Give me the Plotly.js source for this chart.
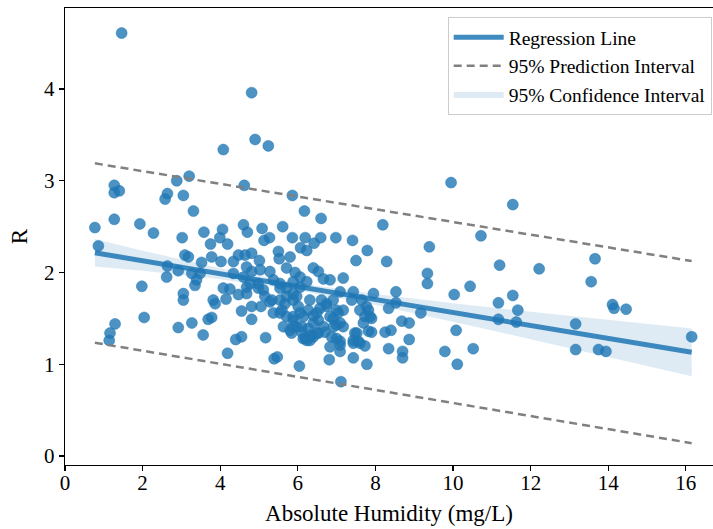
<!DOCTYPE html>
<html>
<head>
<meta charset="utf-8">
<script src="https://cdn.plot.ly/plotly-3.0.1.min.js"></script>
<style>html,body{margin:0;padding:0;background:#fff;}#chart{width:713px;height:529px;}</style>
</head>
<body>
<div id="chart"></div>
<script>
// Observed points: absolute humidity (mg/L) and R
const humidity = [
1.46,4.81,4.90,5.24,4.08,4.62,9.95,11.54,10.72,9.39,11.20,12.22,1.27,1.27,1.40,2.88,3.20,2.64,2.58,3.05,
3.31,5.86,6.17,6.60,0.77,1.27,1.93,2.28,8.19,3.02,3.58,4.06,4.60,4.70,5.08,5.61,5.86,6.19,6.59,6.98,
7.41,3.99,4.19,5.13,5.27,6.07,6.23,6.42,7.79,7.50,8.29,0.86,2.64,2.62,2.92,3.09,3.18,3.52,3.75,3.78,
4.02,3.27,3.48,3.39,3.35,1.98,3.05,3.05,3.82,3.87,4.08,4.25,4.15,4.47,2.04,1.29,1.16,1.14,2.92,3.27,
3.56,3.69,3.78,4.55,4.81,4.81,5.05,4.19,4.40,4.55,5.17,5.39,5.47,6.04,6.81,7.11,7.43,7.78,7.09,
4.34,4.47,4.64,4.81,5.01,4.68,4.81,5.03,5.28,4.34,4.60,4.77,4.68,4.98,5.11,5.15,5.28,5.37,5.50,5.52,
5.80,5.71,5.93,6.06,5.54,5.71,5.88,6.06,6.23,6.40,6.53,6.66,6.83,7.17,5.54,5.67,5.88,6.01,5.54,5.71,
5.88,6.06,6.27,6.40,6.57,6.74,6.91,7.09,6.40,6.53,6.66,6.27,6.14,6.36,6.53,6.70,6.91,7.04,7.17,7.00,
7.17,6.87,7.00,6.83,7.09,5.80,5.97,6.10,7.43,7.65,7.82,7.73,7.90,7.69,7.47,7.43,7.56,7.73,7.90,7.95,
8.25,8.34,8.34,5.37,5.59,5.88,
7.39,8.53,8.53,5.97,5.88,6.10,5.84,6.19,6.40,6.31,6.49,6.61,6.74,6.83,7.00,7.09,6.92,6.49,6.31,7.60,
7.77,7.86,7.82,7.52,7.43,7.60,7.09,
4.68,4.98,5.33,5.54,5.71,5.63,5.88,6.23,6.14,
9.34,9.34,10.44,10.03,11.17,11.54,11.67,9.17,8.68,8.87,8.40,11.17,11.63,10.08,8.87,8.70,8.70,9.79,10.52,10.11,
13.66,13.56,14.11,14.15,14.46,13.16,13.16,13.75,13.94,16.15
];
const rValues = [
4.61,3.96,3.45,3.38,3.34,2.95,2.98,2.74,2.40,2.28,2.08,2.04,2.95,2.87,2.89,3.00,3.05,2.86,2.80,2.84,
2.67,2.84,2.67,2.59,2.49,2.58,2.53,2.43,2.52,2.38,2.44,2.47,2.52,2.44,2.48,2.50,2.38,2.38,2.38,2.38,
2.35,2.38,2.31,2.35,2.38,2.27,2.24,2.32,2.24,2.13,2.12,2.29,2.07,1.95,2.02,2.19,2.17,2.11,2.31,2.17,
2.12,1.99,1.99,1.92,1.86,1.85,1.77,1.70,1.70,1.66,1.83,1.82,1.71,1.76,1.51,1.44,1.34,1.26,1.40,1.45,
1.32,1.49,1.51,1.58,1.63,1.49,1.63,1.12,1.27,1.30,1.29,1.06,1.08,0.98,1.05,0.81,1.07,1.00,1.14,
2.12,2.19,2.19,2.21,2.13,2.06,2.01,2.03,2.01,1.99,1.95,1.88,1.84,1.88,1.81,1.74,1.68,1.92,2.23,2.15,
2.17,2.05,2.00,1.95,1.88,1.83,1.77,1.84,1.90,2.05,2.01,1.93,1.92,1.94,1.70,1.66,1.70,1.63,1.56,1.52,
1.48,1.56,1.59,1.53,1.61,1.66,1.70,1.79,1.45,1.48,1.41,1.39,1.28,1.32,1.34,1.35,1.50,1.56,1.59,1.43,
1.41,1.30,1.28,1.19,1.25,1.37,1.41,1.35,1.79,1.70,1.59,1.52,1.50,1.45,1.34,1.23,1.25,1.20,1.35,1.77,
1.35,1.17,1.61,1.56,1.59,1.90,
1.70,1.79,1.67,1.74,1.52,1.41,1.34,1.28,1.30,1.70,1.56,1.70,1.63,1.52,1.59,1.45,1.41,1.34,1.26,1.59,
1.63,1.52,1.36,1.34,1.26,1.23,1.21,
1.77,1.83,1.70,1.83,1.74,1.41,1.41,1.26,1.52,
1.99,1.88,1.85,1.76,1.67,1.75,1.59,1.56,1.47,1.45,1.37,1.49,1.46,1.37,1.27,1.14,1.07,1.14,1.17,1.00,
2.15,1.90,1.65,1.61,1.60,1.44,1.16,1.16,1.14,1.30
];

// Fitted regression line (end points over the data range)
const fitX = [0.77, 16.15];
const fitY = [2.215, 1.13];
// 95% prediction interval bounds
const predUpper = [3.19, 2.125];
const predLower = [1.235, 0.14];
// 95% confidence band
const ciX = [0.77, 2, 4, 6, 8, 10, 12, 14, 16.15];
const ciUpper = [2.365, 2.238, 2.047, 1.886, 1.765, 1.664, 1.573, 1.482, 1.39];
const ciLower = [2.065, 2.018, 1.927, 1.806, 1.645, 1.464, 1.273, 1.082, 0.87];

const xTicks = [0, 2, 4, 6, 8, 10, 12, 14, 16];
const yTicks = [0, 1, 2, 3, 4];

const blue = 'rgba(31,119,180,0.8)';
const font = 'Liberation Serif, Times New Roman, serif';

const traces = [
  {
    x: ciX.concat(ciX.slice().reverse()),
    y: ciUpper.concat(ciLower.slice().reverse()),
    type: 'scatter', mode: 'lines', fill: 'toself',
    fillcolor: 'rgba(31,119,180,0.15)', line: {width: 0, color: 'rgba(31,119,180,0)'},
    name: '95% Confidence Interval', legendrank: 3, hoverinfo: 'skip'
  },
  {
    x: humidity, y: rValues, type: 'scatter', mode: 'markers',
    marker: {size: 11, color: blue, line: {width: 0.6, color: blue}},
    showlegend: false
  },
  {
    x: fitX, y: fitY, type: 'scatter', mode: 'lines',
    line: {color: 'rgba(31,119,180,0.85)', width: 5},
    name: 'Regression Line', legendrank: 1
  },
  {
    x: fitX.concat([null]).concat(fitX), y: predUpper.concat([null]).concat(predLower),
    type: 'scatter', mode: 'lines', connectgaps: false,
    line: {color: '#808080', width: 2.5, dash: '8px,5px'},
    name: '95% Prediction Interval', legendrank: 2
  }
];

const layout = {
  width: 713, height: 529,
  margin: {l: 65, r: 0, t: 8, b: 64},
  paper_bgcolor: '#fff', plot_bgcolor: '#fff',
  font: {family: font, color: '#000', size: 21},
  showlegend: true,
  xaxis: {
    range: [0, 16.70], tickvals: xTicks, ticktext: xTicks.map(String),
    showgrid: false, zeroline: false, showline: true, linecolor: '#000', linewidth: 1.2,
    mirror: true, ticks: 'outside', ticklen: 5, tickwidth: 1.2, tickcolor: '#000',
    ticklabelstandoff: -6,
    tickfont: {family: font, size: 21, color: '#000'},
    title: {text: 'Absolute Humidity (mg/L)', font: {family: font, size: 23, color: '#000'}, standoff: 10}
  },
  yaxis: {
    range: [-0.098, 4.883], tickvals: yTicks, ticktext: yTicks.map(String),
    showgrid: false, zeroline: false, showline: true, linecolor: '#000', linewidth: 1.2,
    ticks: 'outside', ticklen: 5, tickwidth: 1.2, tickcolor: '#000',
    tickfont: {family: font, size: 21, color: '#000'},
    title: {text: 'R', font: {family: font, size: 23, color: '#000'}, standoff: 10}
  },
  legend: {
    x: 0.998, xanchor: 'right', y: 0.98, yanchor: 'top',
    bgcolor: 'rgba(255,255,255,0.85)', bordercolor: '#cccccc', borderwidth: 1,
    font: {family: font, size: 19.5, color: '#000'},
    itemwidth: 50,
    tracegroupgap: 2
  }
};

Plotly.newPlot('chart', traces, layout, {staticPlot: true, displayModeBar: false});
</script>
</body>
</html>
